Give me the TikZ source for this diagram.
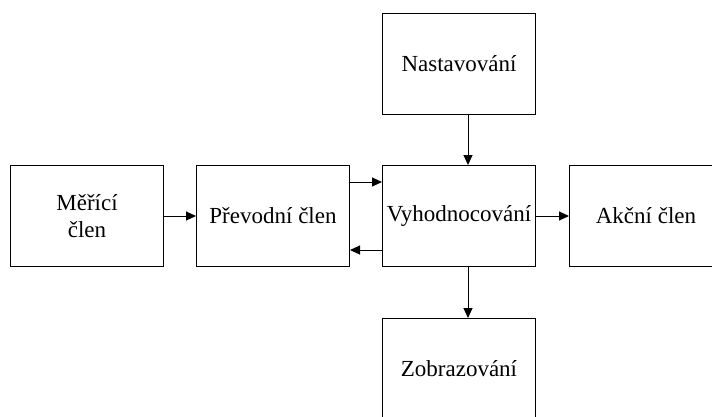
\documentclass[tikz,border=0pt]{standalone}
\usepackage{fontspec}
\setmainfont{Liberation Serif}
\usetikzlibrary{arrows.meta, positioning}

\begin{document}
\begin{tikzpicture}[x=1pt, y=-1pt, >={Triangle[length=10pt,width=9pt]}]
\tikzstyle{block} = [rectangle, draw, line width=1pt, minimum width=153pt, minimum height=101pt, inner sep=0pt, align=center, font=\fontsize{23}{27}\selectfont]
\tikzstyle{link} = [->, line width=1pt]

\useasboundingbox (0,0) rectangle (712,416);
\clip (0,0) rectangle (712,416);

\node (mer) [block] at (87,216) {Měřící\\člen};
\node (prev) [block, right=32pt of mer] {Převodní člen};
\node (vyh) [block, right=32pt of prev] {Vyhodnocování};
\node (akc) [block, right=33pt of vyh] {Akční člen};
\node (nast) [block, above=50pt of vyh] {Nastavování};
\node (zobr) [block, below=51pt of vyh] {Zobrazování};

\draw [link] (mer) -- (prev);
\draw [link] ([yshift=34pt]prev.east) -- ([yshift=34pt]vyh.west);
\draw [link] ([yshift=-34pt]vyh.west) -- ([yshift=-34pt]prev.east);
\draw [link] (vyh) -- (akc);
\draw [link] ([xshift=9pt]nast.south) -- ([xshift=9pt]vyh.north);
\draw [link] ([xshift=9pt]vyh.south) -- ([xshift=9pt]zobr.north);

\end{tikzpicture}
\end{document}
